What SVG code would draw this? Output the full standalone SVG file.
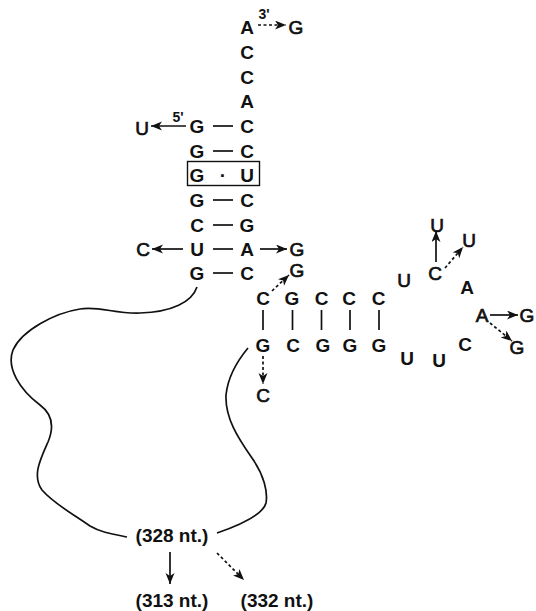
<svg xmlns="http://www.w3.org/2000/svg" width="536" height="611" viewBox="0 0 536 611">
<style>
text{font-family:"Liberation Sans",Arial,sans-serif;font-size:19px;font-weight:bold;text-anchor:middle;fill:#111}
text.r{font-weight:normal;stroke:#111;stroke-width:0.7}
text.s{font-size:14px}
.ln{stroke:#111;stroke-width:1.7;fill:none}
.da{stroke-dasharray:3,2.5}
.cv{stroke:#111;stroke-width:1.7;fill:none}
</style>
<defs>
<marker id="ah" markerUnits="userSpaceOnUse" markerWidth="14" markerHeight="10" refX="11" refY="4.5" orient="auto">
<path d="M0,0 L11,4.5 L0,9 L3,4.5 Z" fill="#111"/>
</marker>
</defs>
<rect width="536" height="611" fill="#fff"/>
<g id="stem">
<text x="247" y="34">A</text>
<text x="247" y="59">C</text>
<text x="247" y="84">C</text>
<text x="247" y="108">A</text>
<text x="197" y="133">G</text><text x="247" y="133">C</text>
<text x="197" y="158">G</text><text x="247" y="158">C</text>
<text x="197" y="182">G</text><text x="223" y="182">·</text><text x="247" y="182">U</text>
<text x="197" y="207">G</text><text x="247" y="207">C</text>
<text x="197" y="232">C</text><text x="247" y="232">G</text>
<text x="197" y="256">U</text><text x="247" y="256">A</text>
<text x="197" y="280">G</text><text x="247" y="280">C</text>
<rect x="187.5" y="161.5" width="72" height="24" fill="none" stroke="#111" stroke-width="1.4"/>
</g>
<g id="mutations-stem">
<text class="s" x="264" y="19">3'</text>
<text class="r" x="296" y="34">G</text>
<text class="s" x="178" y="122">5'</text>
<text class="r" x="142" y="135">U</text>
<text class="r" x="143" y="256">C</text>
<text class="r" x="297" y="256">G</text>
<text class="r" x="297" y="277">G</text>
</g>
<g id="branch">
<text x="263" y="305">C</text><text x="292" y="305">G</text><text x="321.5" y="305">C</text><text x="349" y="305">C</text><text x="378.5" y="305">C</text>
<text x="263" y="352">G</text><text x="293" y="352">C</text><text x="323" y="352">G</text><text x="350" y="352">G</text><text x="379" y="352">G</text>
<text class="r" x="263" y="402">C</text>
</g>
<g id="loop">
<text class="r" x="404" y="287">U</text>
<text class="r" x="435" y="280">C</text>
<text class="r" x="437" y="232">U</text>
<text class="r" x="469" y="247">U</text>
<text x="467" y="294">A</text>
<text class="r" x="482" y="322">A</text>
<text class="r" x="527" y="322">G</text>
<text class="r" x="517" y="354">G</text>
<text x="465" y="351">C</text>
<text x="407" y="365">U</text>
<text x="439" y="367">U</text>
</g>
<g id="labels">
<text x="172" y="542">(328 nt.)</text>
<text x="172" y="607">(313 nt.)</text>
<text x="277" y="607">(332 nt.)</text>
</g>
<g id="connectors">
<line class="ln" x1="213" y1="126" x2="233" y2="126"/>
<line class="ln" x1="213" y1="151" x2="233" y2="151"/>
<line class="ln" x1="213" y1="200" x2="233" y2="200"/>
<line class="ln" x1="213" y1="225" x2="233" y2="225"/>
<line class="ln" x1="213" y1="249" x2="233" y2="249"/>
<line class="ln" x1="213" y1="273" x2="233" y2="273"/>
<line class="ln" x1="263" y1="310" x2="263" y2="330"/>
<line class="ln" x1="292.5" y1="310" x2="292.5" y2="330"/>
<line class="ln" x1="321.5" y1="310" x2="321.5" y2="330"/>
<line class="ln" x1="350" y1="310" x2="350" y2="330"/>
<line class="ln" x1="379" y1="310" x2="379" y2="330"/>
<line class="ln da" x1="258" y1="25" x2="286" y2="25" marker-end="url(#ah)"/>
<line class="ln" x1="186" y1="126" x2="151" y2="126" marker-end="url(#ah)"/>
<line class="ln" x1="183" y1="249" x2="152" y2="249" marker-end="url(#ah)"/>
<line class="ln" x1="260" y1="249" x2="287" y2="249" marker-end="url(#ah)"/>
<line class="ln da" x1="272" y1="291" x2="289" y2="275" marker-end="url(#ah)"/>
<line class="ln da" x1="263" y1="356" x2="263" y2="384" marker-end="url(#ah)"/>
<line class="ln" x1="436" y1="262" x2="436" y2="231" marker-end="url(#ah)"/>
<line class="ln da" x1="445" y1="268" x2="463" y2="247" marker-end="url(#ah)"/>
<line class="ln" x1="490" y1="315" x2="518" y2="315" marker-end="url(#ah)"/>
<line class="ln da" x1="490" y1="323" x2="512" y2="341" marker-end="url(#ah)"/>
<line class="ln" x1="170" y1="552" x2="170" y2="584" marker-end="url(#ah)"/>
<line class="ln da" x1="217" y1="553" x2="244" y2="580" marker-end="url(#ah)"/>
<path class="cv" d="M197,287 C192,302 172,312 140,313 C115,314 100,306 80,309 C55,313 22,330 13,350 C6,368 20,390 40,405 C55,416 53,430 48,442 C40,460 32,476 42,490 C55,505 75,515 90,526 C100,532 112,534 127,537"/>
<path class="cv" d="M248,348 C238,360 228,376 226,395 C225,418 238,438 252,458 C264,475 268,492 266,503 C263,515 240,525 217,533"/>
</g>
</svg>
